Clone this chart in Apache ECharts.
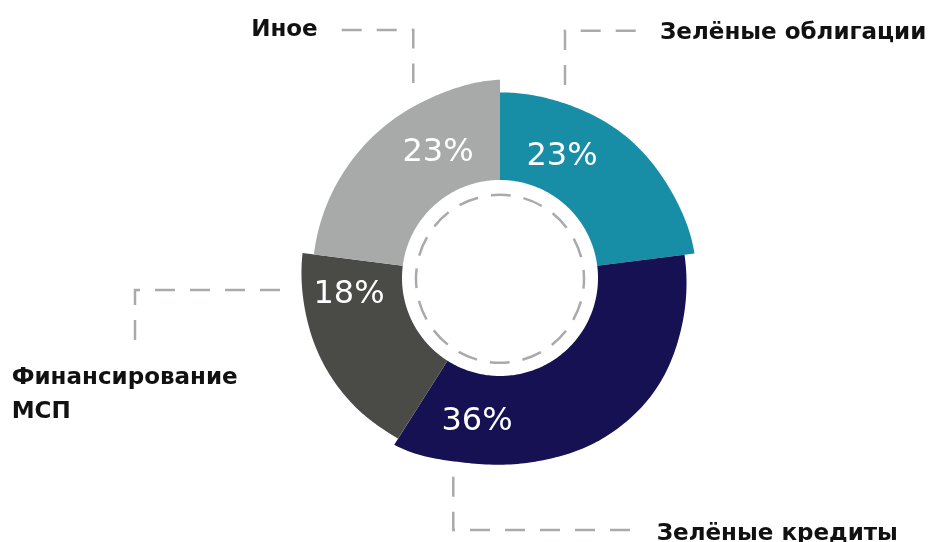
<!DOCTYPE html>
<html>
<head>
<meta charset="utf-8">
<script src="https://cdn.jsdelivr.net/npm/echarts@6/dist/echarts.min.js"></script>
<style>
  html, body { margin: 0; padding: 0; background: #fff; }
  #chart { width: 938px; height: 542px; }
</style>
</head>
<body>
<div id="chart"></div>
<script>
// data
const categories = ['Зелёные облигации', 'Зелёные кредиты', 'Финансирование МСП', 'Иное'];
const shares = [23, 36, 18, 23];

// look
const colors = ['#188ea6', '#151152', '#4a4b46', '#a7aaa9'];
const FONT = '"DejaVu Sans", sans-serif';
const innerR = 98;
// outer edge radius along each slice (evenly spaced from start to end)
const outerProfile = [
  [185.6, 186.2, 189.5, 191.8, 196],
  [186, 188, 191.5, 190.5, 187, 188, 197.4],
  [190.2, 193.8, 196.4, 197.6, 199],
  [187.6, 188.4, 190.3, 193, 198.3]
];
// percent label: [radius, fraction of slice]
const pctPos = [[135.8, 0.328], [146, 0.82], [151.9, 0.794], [140.2, 0.683]];
// leader lines + names, offsets from the centre
const leaders = [
  { path: [[65, -193], [65, -247.3], [138.3, -247.3]], text: [160, -245.4], align: 'left' },
  { path: [[-46.7, 198.7], [-46.7, 252], [130, 252]], text: [156.7, 256.1], align: 'left' },
  { path: [[-220, 12], [-365, 12], [-365, 65.3]], text: [-488.3, 116.6], align: 'left', wrap: true },
  { path: [[-158.3, -248], [-86.7, -248], [-86.7, -195]], text: [-182.3, -248.4], align: 'right' }
];

const starts = [];
shares.reduce(function (acc, v) { starts.push(acc); return acc + v; }, 0);

// smooth (catmull-rom) read of a profile at t in [0,1]
function profileAt(p, t) {
  const n = p.length - 1;
  const s = t * n;
  const k = Math.min(Math.floor(s), n - 1);
  const f = s - k;
  const p0 = p[Math.max(k - 1, 0)], p1 = p[k], p2 = p[k + 1], p3 = p[Math.min(k + 2, n)];
  return 0.5 * ((2 * p1) + (-p0 + p2) * f + (2 * p0 - 5 * p1 + 4 * p2 - p3) * f * f +
    (-p0 + 3 * p1 - 3 * p2 + p3) * f * f * f);
}

const chart = echarts.init(document.getElementById('chart'));
chart.setOption({
  animation: false,
  polar: { center: [500, 278], radius: 200 },
  angleAxis: { type: 'value', min: 0, max: 100, startAngle: 90, clockwise: true, show: false },
  radiusAxis: { type: 'value', min: 0, max: 200, show: false },
  graphic: [{
    type: 'circle',
    shape: { cx: 500, cy: 278.8, r: 84 },
    style: { fill: 'none', stroke: '#a9aaab', lineWidth: 2.5, lineDash: [20, 13], lineDashOffset: 10 }
  }],
  series: [{
    type: 'custom',
    coordinateSystem: 'polar',
    silent: true,
    data: shares.map(function (v, i) { return [v, i]; }),
    renderItem: function (params, api) {
      const i = params.dataIndex;
      const v = api.value(0);
      const a0 = starts[i];
      const N = 120;
      const pts = [];
      for (let k = 0; k <= N; k++) {
        const t = k / N;
        pts.push(api.coord([profileAt(outerProfile[i], t), a0 + v * t]));
      }
      for (let k = N; k >= 0; k--) {
        pts.push(api.coord([innerR, a0 + v * k / N]));
      }
      const c = api.coord([0, 0]);
      const lp = api.coord([pctPos[i][0], a0 + v * pctPos[i][1]]);
      const ld = leaders[i];
      const name = ld.wrap ? categories[i].replace(' ', '\n') : categories[i];
      return {
        type: 'group',
        children: [
          { type: 'polygon', shape: { points: pts.map(function (p) { return [p[0], p[1]]; }) },
            style: { fill: colors[i], stroke: null } },
          { type: 'text', x: lp[0], y: lp[1],
            style: { text: v + '%', fill: '#fff', fontSize: 32, fontFamily: FONT,
                     align: 'center', verticalAlign: 'middle' } },
          { type: 'polyline',
            shape: { points: ld.path.map(function (p) { return [c[0] + p[0], c[1] + p[1]]; }) },
            style: { fill: null, stroke: '#a9aaab', lineWidth: 2.5, lineDash: [20, 15] } },
          { type: 'text', x: c[0] + ld.text[0], y: c[1] + ld.text[1],
            style: { text: name, fill: '#111', fontSize: 23, fontWeight: 'bold', fontFamily: FONT,
                     lineHeight: 34, align: ld.align, verticalAlign: 'middle' } }
        ]
      };
    }
  }]
});
</script>
</body>
</html>
